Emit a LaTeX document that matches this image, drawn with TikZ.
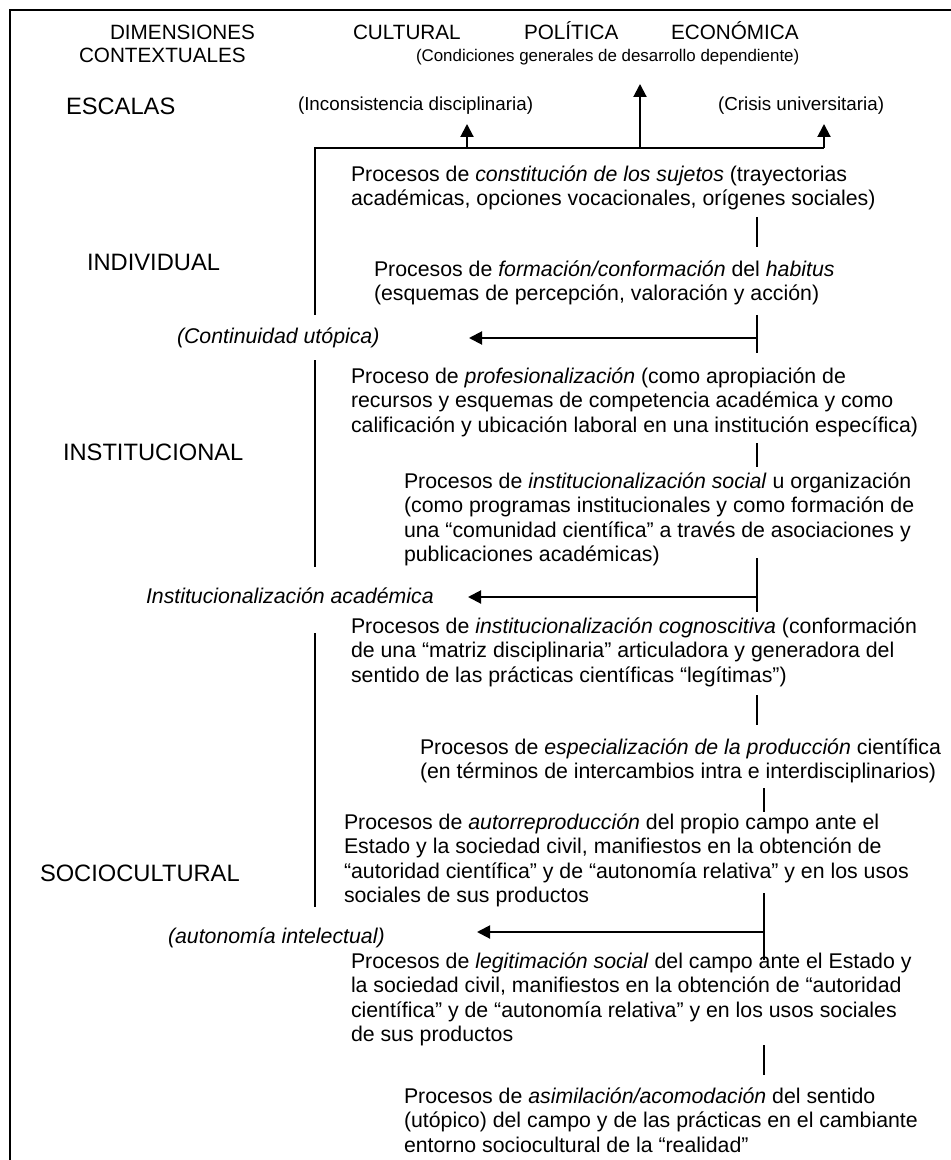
\documentclass[tikz,border=0pt]{standalone}
\usepackage{fontspec}
\setmainfont{Liberation Sans}
\usepackage{tikz}
\usetikzlibrary{arrows.meta}

\begin{document}
\begin{tikzpicture}[x=0.5pt, y=-0.5pt, line width=1pt,
                    body text/.style={anchor=north west, inner sep=0pt, align=left,
                                      font=\fontsize{10.65}{12.15}\selectfont},
                    scale label/.style={anchor=west, inner sep=0pt, font=\fontsize{11.85}{14}\selectfont},
                    dim label/.style={anchor=base west, inner sep=0pt, font=\fontsize{10.35}{12}\selectfont},
                    note label/.style={anchor=west, inner sep=0pt, font=\fontsize{9.4}{11}\selectfont},
                    side label/.style={anchor=west, inner sep=0pt, font=\fontsize{10.65}{12.15}\selectfont\itshape},
                    flow arrow/.style={-{Triangle[length=6.5pt,width=6.5pt]}}]

  \useasboundingbox (0,0) rectangle (951,1160);
  \draw (951,10) -- (10,10) -- (10,1160);

  % cabecera
  \node[dim label] (dim) at (109,40) {DIMENSIONES};
  \node[dim label] (ctx) at (78,63) {CONTEXTUALES};
  \node[dim label] (cult) at (352,40) {CULTURAL};
  \node[dim label] (pol) at (523,40) {POLÍTICA};
  \node[dim label] (econ) at (670,40) {ECONÓMICA};
  \node[dim label, font=\fontsize{8.45}{10}\selectfont] (cond) at (415,62)
    {(Condiciones generales de desarrollo dependiente)};
  \node[scale label] (esc) at (65,106) {ESCALAS};
  \node[note label] (incons) at (297,106) {(Inconsistencia disciplinaria)};
  \node[note label] (crisis) at (717,106) {(Crisis universitaria)};

  % escalas
  \node[scale label] (indiv) at (86,262) {INDIVIDUAL};
  \node[scale label] (instit) at (62,452) {INSTITUCIONAL};
  \node[scale label] (socio) at (39,873) {SOCIOCULTURAL};

  % procesos
  \node[body text] (p1) at (350,165)
    {Procesos de \textit{constitución de los sujetos} (trayectorias\\
     académicas, opciones vocacionales, orígenes sociales)};
  \node[body text] (p2) at (373,260)
    {Procesos de \textit{formación/conformación} del \textit{habitus}\\
     (esquemas de percepción, valoración y acción)};
  \node[body text] (p3) at (350,367)
    {Proceso de \textit{profesionalización} (como apropiación de\\
     recursos y esquemas de competencia académica y como\\
     calificación y ubicación laboral en una institución específica)};
  \node[body text] (p4) at (403,472)
    {Procesos de \textit{institucionalización social} u organización\\
     (como programas institucionales y como formación de\\
     una “comunidad científica” a través de asociaciones y\\
     publicaciones académicas)};
  \node[body text] (p5) at (350,617)
    {Procesos de \textit{institucionalización cognoscitiva} (conformación\\
     de una “matriz disciplinaria” articuladora y generadora del\\
     sentido de las prácticas científicas “legítimas”)};
  \node[body text] (p6) at (419,738)
    {Procesos de \textit{especialización de la producción} científica\\
     (en términos de intercambios intra e interdisciplinarios)};
  \node[body text] (p7) at (343,813)
    {Procesos de \textit{autorreproducción} del propio campo ante el\\
     Estado y la sociedad civil, manifiestos en la obtención de\\
     “autoridad científica” y de “autonomía relativa” y en los usos\\
     sociales de sus productos};
  \node[body text] (p8) at (350,952)
    {Procesos de \textit{legitimación social} del campo ante el Estado y\\
     la sociedad civil, manifiestos en la obtención de “autoridad\\
     científica” y de “autonomía relativa” y en los usos sociales\\
     de sus productos};
  \node[body text] (p9) at (403,1087)
    {Procesos de \textit{asimilación/acomodación} del sentido\\
     (utópico) del campo y de las prácticas en el cambiante\\
     entorno sociocultural de la “realidad”};

  % resultados
  \node[side label] (cont) at (176,338) {(Continuidad utópica)};
  \node[side label] (acad) at (145,596) {Institucionalización académica};
  \node[side label] (auton) at (167,938) {(autonomía intelectual)};

  % conectores superiores
  \coordinate (hl) at (315,148);
  \coordinate (hr) at (824,148);
  \coordinate (v1) at (315,315);
  \coordinate (up1) at (467,148);
  \coordinate (up2) at (640,148);
  \draw (v1) -- (hl) -- (hr);
  \draw[flow arrow] (up1) -- (467,124);
  \draw[flow arrow] (up2) -- (640,84);
  \draw[flow arrow] (hr) -- (824,124);

  % linea izquierda
  \draw (315,360) -- (315,567);
  \draw (315,633) -- (315,907);

  % trazos entre procesos
  \foreach \n/\x/\ya/\yb in {1/757/217/247, 2/757/315/353, 3/757/443/467,
                             4/757/558/612, 5/757/695/725, 6/764/788/812,
                             7/764/893/960, 8/764/1045/1075} {
    \coordinate (tick\n a) at (\x,\ya);
    \coordinate (tick\n b) at (\x,\yb);
    \draw (tick\n a) -- (tick\n b);
  }

  % flechas hacia los resultados
  \coordinate (cont start) at (757,338);
  \coordinate (cont tip) at (469,338);
  \coordinate (acad start) at (757,597);
  \coordinate (acad tip) at (468,597);
  \coordinate (auton start) at (764,932);
  \coordinate (auton tip) at (477,932);
  \draw[flow arrow] (cont start) -- (cont tip);
  \draw[flow arrow] (acad start) -- (acad tip);
  \draw[flow arrow] (auton start) -- (auton tip);
\end{tikzpicture}
\end{document}
